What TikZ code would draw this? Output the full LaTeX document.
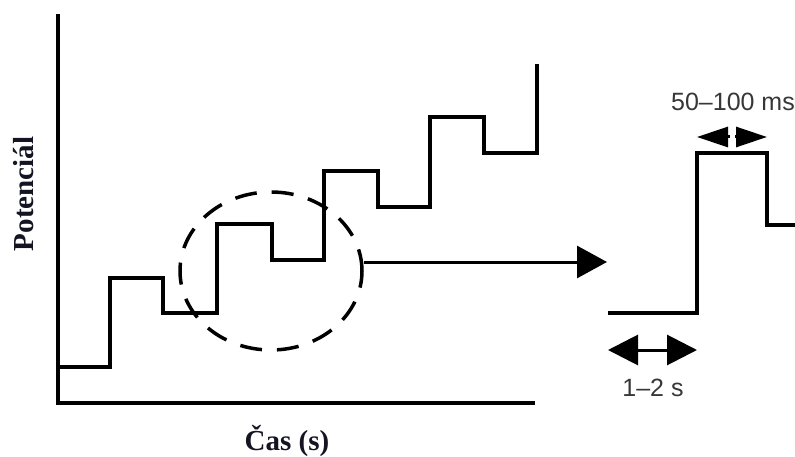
\documentclass[tikz,border=0pt]{standalone}
\usepackage{fontspec}
\setmainfont{Liberation Serif}
\newfontfamily\labelsans{Liberation Sans}
\usetikzlibrary{arrows.meta,shapes.geometric}
\definecolor{labelgray}{RGB}{55,55,55}
\definecolor{axisink}{RGB}{20,20,35}
\tikzset{
  trace/.style={line width=4pt,line join=miter},
  axislabel/.style={font=\bfseries\fontsize{29}{32}\selectfont,text=axisink,inner sep=0pt},
  timelabel/.style={font=\labelsans\fontsize{25}{28}\selectfont,text=labelgray,inner sep=0pt},
  bighead/.style={-{Triangle[length=30pt,width=32pt]}},
  spanarrow/.style={line width=3pt,{Triangle[length=30pt,width=30pt]}-{Triangle[length=30pt,width=30pt]}},
  halfarrow/.style={line width=3pt,-{Triangle[length=31pt,width=20pt]}},
}
\begin{document}
\begin{tikzpicture}[x=1pt,y=-1pt]
  \useasboundingbox (0,0) rectangle (795,457);
  \clip (0,0) rectangle (795,457);

  %% axes
  \coordinate (ytop) at (58,14);
  \coordinate (o) at (58,403);
  \coordinate (xend) at (535,403);
  \draw[line width=4pt] (ytop) -- (o) -- (xend);
  \node[axislabel,rotate=90] (ylab) at (24,194) {Potenciál};
  \node[axislabel] (xlab) at (287,441) {Čas (s)};

  %% staircase
  \draw[trace] (58,367) -- (110,367) -- (110,278) -- (163,278) -- (163,313)
    -- (217,313) -- (217,224) -- (272,224) -- (272,260) -- (324,260)
    -- (324,171) -- (378,171) -- (378,207) -- (430,207) -- (430,117)
    -- (484,117) -- (484,153) -- (537,153) -- (537,64);

  %% zoom in
  \node[ellipse,draw,line width=3.5pt,dash pattern=on 22pt off 15pt,
        minimum width=182pt,minimum height=158pt] (zoom) at (271,271) {};
  \coordinate (tip) at (607,262);
  \draw[line width=3pt,bighead] (zoom.east |- tip) -- (tip);

  %% single step
  \draw[trace] (608,313) -- (697,313) -- (697,153) -- (767,153) -- (767,225) -- (800,225);
  \coordinate (s1) at (608,350);
  \coordinate (s2) at (697,350);
  \draw[spanarrow] (s1) -- (s2);
  \node[timelabel] (slow) at (653,388) {1–2 s};
  \coordinate (p1) at (730,137);
  \coordinate (p2) at (735,137);
  \coordinate (pl) at (697,137);
  \coordinate (pr) at (767,137);
  \draw[halfarrow] (p1) -- (pl);
  \draw[halfarrow] (p2) -- (pr);
  \node[timelabel] (pulse) at (733,102) {50–100 ms};
\end{tikzpicture}
\end{document}
